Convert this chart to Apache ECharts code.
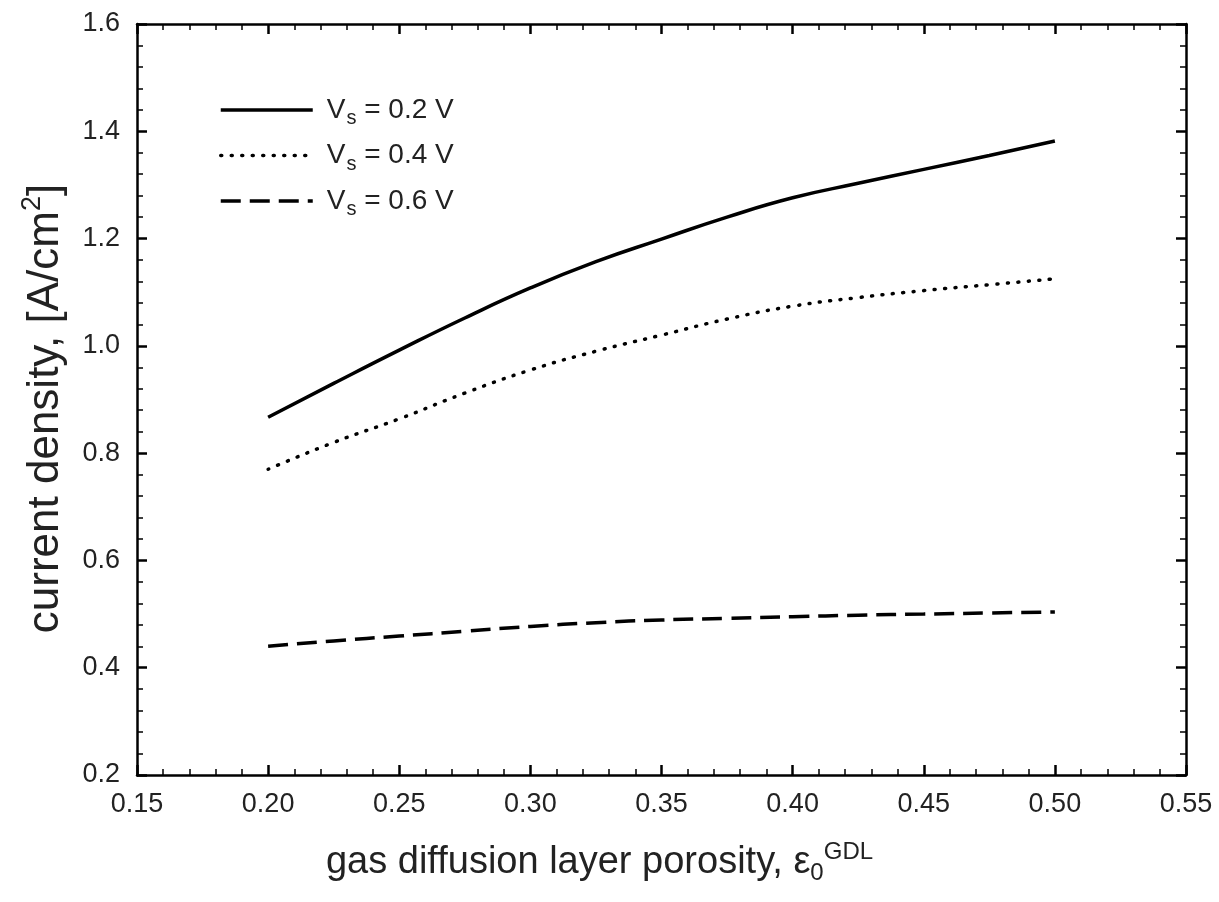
<!DOCTYPE html>
<html>
<head>
<meta charset="utf-8">
<script src="https://cdn.jsdelivr.net/npm/echarts@6/dist/echarts.min.js"></script>
<style>
  html, body { margin: 0; padding: 0; background: #fff; }
  #chart { width: 1219px; height: 902px; }
</style>
</head>
<body>
<div id="chart"></div>
<script>
// Gas diffusion layer porosity (x) and current density [A/cm2] at three cell voltages
const porosity = [0.20, 0.225, 0.25, 0.275, 0.30, 0.325, 0.35, 0.375, 0.40, 0.425, 0.45, 0.475, 0.50];
const density02 = [0.867, 0.930, 0.992, 1.052, 1.108, 1.157, 1.199, 1.240, 1.276, 1.303, 1.329, 1.355, 1.382];
const density04 = [0.770, 0.820, 0.864, 0.912, 0.955, 0.990, 1.020, 1.050, 1.074, 1.090, 1.103, 1.114, 1.125];
const density06 = [0.440, 0.450, 0.459, 0.468, 0.477, 0.484, 0.489, 0.492, 0.495, 0.498, 0.500, 0.502, 0.504];
const seriesNames = ['V_s = 0.2 V', 'V_s = 0.4 V', 'V_s = 0.6 V'];

const FONT = '"Liberation Sans", Arial, sans-serif';
const TXT = '#222';

function pairs(xs, ys) { return xs.map((x, i) => [x, ys[i]]); }

const chart = echarts.init(document.getElementById('chart'), null, { renderer: 'canvas' });

const axisLine = { show: true, onZero: false, lineStyle: { color: '#000', width: 2.5 } };
const majorTick = { show: true, inside: true, length: 10, lineStyle: { color: '#000', width: 2.5 } };
const minorTick = { show: true, splitNumber: 5, length: 6, lineStyle: { color: '#000', width: 1.5 } };

function legendLabel(name) {
  // "V_s = 0.2 V" -> V with subscript s
  const rest = name.replace('V_s', '');
  return '{g|}{v|V}{s|s}{v|' + rest + '}';
}

const option = {
  animation: false,
  backgroundColor: '#fff',
  grid: { left: 137, right: 33, top: 24, bottom: 127, containLabel: false },
  legend: {
    show: true,
    orient: 'vertical',
    left: 214,
    top: 91,
    itemWidth: 92,
    itemHeight: 18,
    itemGap: 13,
    data: seriesNames,
    formatter: legendLabel,
    itemStyle: { opacity: 0 },
    lineStyle: { width: 3.5 },
    textStyle: {
      fontFamily: FONT, fontSize: 28, color: TXT,
      rich: {
        g: { width: 9 },
        v: { fontFamily: FONT, fontSize: 28, color: TXT },
        s: { fontFamily: FONT, fontSize: 20, color: TXT, padding: [17, 0, 0, 1] }
      }
    }
  },
  xAxis: [
    {
      type: 'value', min: 0.15, max: 0.55, interval: 0.05, position: 'bottom',
      axisLine, axisTick: majorTick, minorTick, splitLine: { show: false },
      axisLabel: {
        margin: 16, fontFamily: FONT, fontSize: 27, color: TXT,
        formatter: v => v.toFixed(2)
      },
      name: '{t|gas diffusion layer porosity, ε}{sub|0}{sup|GDL}',
      nameLocation: 'middle', nameGap: 65,
      nameTextStyle: {
        padding: [0, 124, 0, 0],
        rich: {
          t: { fontFamily: FONT, fontSize: 38, color: TXT },
          sub: { fontFamily: FONT, fontSize: 24, color: TXT, padding: [20, 0, 0, 0] },
          sup: { fontFamily: FONT, fontSize: 24, color: TXT, padding: [0, 0, 22, 0] }
        }
      }
    },
    {
      type: 'value', min: 0.15, max: 0.55, interval: 0.05, position: 'top',
      axisLine, axisTick: majorTick, minorTick, splitLine: { show: false },
      axisLabel: { show: false }
    }
  ],
  yAxis: [
    {
      type: 'value', min: 0.2, max: 1.6, interval: 0.2, position: 'left',
      axisLine, axisTick: majorTick, minorTick, splitLine: { show: false },
      axisLabel: {
        margin: 17, fontFamily: FONT, fontSize: 27, color: TXT,
        formatter: v => v.toFixed(1)
      },
      name: '{t|current density, [A/cm}{sup|2}{t|]}',
      nameLocation: 'middle', nameGap: 65, nameRotate: 90,
      nameTextStyle: {
        padding: [0, 18, 0, 0],
        rich: {
          t: { fontFamily: FONT, fontSize: 44, color: TXT },
          sup: { fontFamily: FONT, fontSize: 27, color: TXT, padding: [0, 0, 26, 0] }
        }
      }
    },
    {
      type: 'value', min: 0.2, max: 1.6, interval: 0.2, position: 'right',
      axisLine, axisTick: majorTick, minorTick, splitLine: { show: false },
      axisLabel: { show: false }
    }
  ],
  series: [
    {
      name: seriesNames[0], type: 'line', smooth: true, symbol: 'none',
      data: pairs(porosity, density02),
      lineStyle: { color: '#000', width: 3.5, type: 'solid' },
      itemStyle: { color: '#000' }
    },
    {
      name: seriesNames[1], type: 'line', smooth: true, symbol: 'none',
      data: pairs(porosity, density04),
      lineStyle: { color: '#000', width: 3.5, type: [1, 9.5], cap: 'round' },
      itemStyle: { color: '#000' }
    },
    {
      name: seriesNames[2], type: 'line', smooth: true, symbol: 'none',
      data: pairs(porosity, density06),
      lineStyle: { color: '#000', width: 3.5, type: [20, 9] },
      itemStyle: { color: '#000' }
    }
  ]
};

chart.setOption(option);
</script>
</body>
</html>
